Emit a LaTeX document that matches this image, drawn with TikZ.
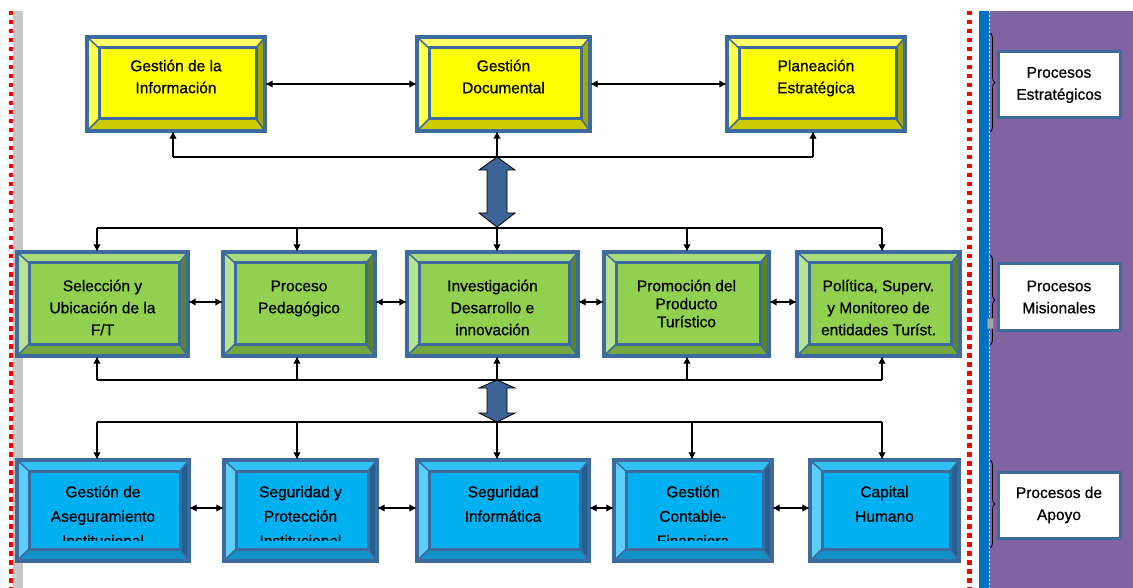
\documentclass[tikz,border=0pt]{standalone}
\usepackage{fontspec}
\setmainfont{Liberation Sans}
\newfontfamily\boxfont{Liberation Sans}[FakeBold=0.7]
\usetikzlibrary{arrows.meta,fit,decorations.pathreplacing}
\definecolor{bord}{HTML}{3E6B9E}
\definecolor{Yc}{HTML}{FFFF00}
\definecolor{Yt}{HTML}{FFFF66}
\definecolor{Yl}{HTML}{FFFF4D}
\definecolor{Yr}{HTML}{A5A500}
\definecolor{Yb}{HTML}{CCCC00}
\definecolor{Gc}{HTML}{92D050}
\definecolor{Gt}{HTML}{A8DC7A}
\definecolor{Gl}{HTML}{B7E391}
\definecolor{Gr}{HTML}{5C832F}
\definecolor{Gb}{HTML}{74A83F}
\definecolor{Bc}{HTML}{00B0F0}
\definecolor{Bt}{HTML}{33C1F4}
\definecolor{Bl}{HTML}{5ACEF6}
\definecolor{Br}{HTML}{225F8F}
\definecolor{Bb}{HTML}{1290C8}
\definecolor{purp}{HTML}{8064A2}
\definecolor{barblue}{HTML}{0070C0}
\definecolor{arrfill}{HTML}{3C6496}
\definecolor{lgray}{HTML}{C8C8C8}
\newcommand{\firststrut}{\rule{0pt}{13pt}}
\def\iL{12}\def\iT{11}\def\iR{9}\def\iB{12}
\def\clipY{600}
\newcommand{\bev}[8]{%
  \fill[#6c] (#2,#3) rectangle (#4,#5);
  \fill[#6t] (#2,#3) -- (#4,#3) -- ({#4-\iR},{#3+\iT}) -- ({#2+\iL},{#3+\iT}) -- cycle;
  \fill[#6l] (#2,#3) -- ({#2+\iL},{#3+\iT}) -- ({#2+\iL},{#5-\iB}) -- (#2,#5) -- cycle;
  \fill[#6r] (#4,#3) -- ({#4-\iR},{#3+\iT}) -- ({#4-\iR},{#5-\iB}) -- (#4,#5) -- cycle;
  \fill[#6b] (#2,#5) -- ({#2+\iL},{#5-\iB}) -- ({#4-\iR},{#5-\iB}) -- (#4,#5) -- cycle;
  \draw[bord, line width=1.5pt] (#2,#3) -- ({#2+\iL},{#3+\iT}) (#4,#3) -- ({#4-\iR},{#3+\iT}) (#4,#5) -- ({#4-\iR},{#5-\iB}) (#2,#5) -- ({#2+\iL},{#5-\iB});
  \draw[bord, line width=3pt] ({#2+\iL},{#3+\iT}) rectangle ({#4-\iR},{#5-\iB});
  \draw[bord, line width=3.5pt] (#2,#3) rectangle (#4,#5);
  \node[inner sep=0pt, fit={(#2,#3) (#4,#5)}] (#1) {};
  \begin{scope}
    \clip (#2,#3) rectangle (#4,\clipY);
    \node[txt, anchor=north] (#1t) at ({(#2+#4)/2},#7) {\firststrut #8};
  \end{scope}
}
\tikzset{
  txt/.style={align=center, inner sep=0pt, font=\boxfont\fontsize{15.5}{22}\selectfont},
  lab/.style={draw=bord, line width=3pt, fill=white, minimum width=122pt, minimum height=66pt, align=center, inner sep=0pt, font=\boxfont\fontsize{15.5}{22}\selectfont},
  ln/.style={line width=1.1pt, black},
  arr/.style={line width=1.1pt, -{Latex[length=7.5pt,width=7.5pt]}},
  darr/.style={line width=1.1pt, {Latex[length=7.5pt,width=7.5pt]}-{Latex[length=7.5pt,width=7.5pt]}},
  blockarr/.style={fill=arrfill, draw=black, line width=0.8pt},
  reddots/.style={red, dash pattern=on 4.5pt off 4.5pt},
  brc/.style={decorate, decoration={brace, amplitude=5pt}, line width=0.8pt, black}
}
\begin{document}
\begin{tikzpicture}[x=1pt,y=-1pt]
\useasboundingbox (0,0) rectangle (1133,588);
\fill[white] (0,0) rectangle (1133,588);
% side decorations
\fill[lgray] (13,11) rectangle (23,588);
\draw[reddots, line width=3.5pt] (11,11) -- (11,588);
\fill[purp] (989,11) rectangle (1133,588);
\fill[barblue] (979,11) rectangle (989,588);
\draw[white, line width=0.6pt, dash pattern=on 2pt off 2pt] (989.5,11) -- (989.5,588);
\draw[reddots, line width=5pt] (969.5,11) -- (969.5,588);

% top row
\bev{info}{87}{37}{265}{131}{Y}{58}{Gestión de la\\Información}
\bev{doc}{417}{37}{590}{131}{Y}{58}{Gestión\\Documental}
\bev{plan}{727}{37}{905}{131}{Y}{58}{Planeación\\Estratégica}
% middle row
\bev{sel}{17}{252}{188}{356}{G}{278}{Selección y\\Ubicación de la\\F/T}
\bev{ped}{223}{252}{375}{356}{G}{278}{Proceso\\Pedagógico}
\bev{inv}{407}{252}{578}{356}{G}{278}{Investigación\\Desarrollo e\\innovación}
\bev{pro}{604}{252}{769}{356}{G}{278}{Promoción del\\[-4pt]Producto\\[-4pt]Turístico}
\bev{pol}{797}{252}{960}{356}{G}{278}{Política, Superv.\\ y Monitoreo de\\entidades Turíst.}
% bottom row
\def\clipY{540}
\bev{ase}{17}{460}{189}{561}{B}{484}{Gestión de\\[2.5pt]Aseguramiento\\[2.5pt]Institucional}
\bev{seg}{224}{460}{377}{561}{B}{484}{Seguridad y\\[2.5pt]Protección\\[2.5pt]Institucional}
\bev{inf}{417}{460}{589}{561}{B}{484}{Seguridad\\[2.5pt]Informática}
\bev{con}{614}{460}{772}{561}{B}{484}{Gestión\\[2.5pt]Contable-\\[2.5pt]Financiera}
\bev{cap}{810}{460}{959}{561}{B}{484}{Capital\\[2.5pt]Humano}

% horizontal links
\draw[darr] (info.east) -- (doc.west);
\draw[darr] (doc.east) -- (plan.west);
\draw[darr] ([yshift=2pt]sel.east) -- ([yshift=2pt]ped.west);
\draw[darr] ([yshift=2pt]ped.east) -- ([yshift=2pt]inv.west);
\draw[darr] ([yshift=2pt]inv.east) -- ([yshift=2pt]pro.west);
\draw[darr] ([yshift=2pt]pro.east) -- ([yshift=2pt]pol.west);
\draw[darr] ([yshift=2.5pt]ase.east) -- ([yshift=2.5pt]seg.west);
\draw[darr] ([yshift=2.5pt]seg.east) -- ([yshift=2.5pt]inf.west);
\draw[darr] ([yshift=2.5pt]inf.east) -- ([yshift=2.5pt]con.west);
\draw[darr] ([yshift=2.5pt]con.east) -- ([yshift=2.5pt]cap.west);

% top bus
\coordinate (t1) at (173,157); \coordinate (t2) at (497,157); \coordinate (t3) at (813,157);
\draw[ln] (t1) -- (t3);
\draw[arr] (t1) -- (t1 |- info.south);
\draw[arr] (t2) -- (t2 |- doc.south);
\draw[arr] (t3) -- (t3 |- plan.south);
% big block arrow
\draw[blockarr] (497,157) -- (515,170) -- (507,170) -- (507,213) -- (515,213) -- (497,227) -- (479,213) -- (487,213) -- (487,170) -- (479,170) -- cycle;
% green top bus
\coordinate (g1) at (97,228); \coordinate (g2) at (297,228); \coordinate (g3) at (497,228);
\coordinate (g4) at (687,228); \coordinate (g5) at (882,228);
\draw[ln] (g1) -- (g5);
\draw[arr] (g1) -- (g1 |- sel.north);
\draw[arr] (g2) -- (g2 |- ped.north);
\draw[arr] (g3) -- (g3 |- inv.north);
\draw[arr] (g4) -- (g4 |- pro.north);
\draw[arr] (g5) -- (g5 |- pol.north);
% green bottom bus
\coordinate (h1) at (97,380); \coordinate (h2) at (297,380); \coordinate (h3) at (497,380);
\coordinate (h4) at (687,380); \coordinate (h5) at (882,380);
\draw[ln] (h1) -- (h5);
\draw[arr] (h1) -- (h1 |- sel.south);
\draw[arr] (h2) -- (h2 |- ped.south);
\draw[arr] (h3) -- (h3 |- inv.south);
\draw[arr] (h4) -- (h4 |- pro.south);
\draw[arr] (h5) -- (h5 |- pol.south);
% small block arrow
\draw[blockarr] (497,380) -- (515,388) -- (507,388) -- (507,413) -- (515,413) -- (497,422) -- (479,413) -- (487,413) -- (487,388) -- (479,388) -- cycle;
% blue bus
\coordinate (k1) at (97,422); \coordinate (k2) at (297,422); \coordinate (k3) at (497,422);
\coordinate (k4) at (692,422); \coordinate (k5) at (882,422);
\draw[ln] (k1) -- (k5);
\draw[arr] (k1) -- (k1 |- ase.north);
\draw[arr] (k2) -- (k2 |- seg.north);
\draw[arr] (k3) -- (k3 |- inf.north);
\draw[arr] (k4) -- (k4 |- con.north);
\draw[arr] (k5) -- (k5 |- cap.north);

% braces and labels
\coordinate (b1a) at (990,33); \coordinate (b1b) at (990,132);
\coordinate (b2a) at (990,255); \coordinate (b2b) at (990,345);
\coordinate (b3a) at (990,460); \coordinate (b3b) at (990,548);
\draw[brc] (b1a) -- (b1b);
\draw[brc] (b2a) -- (b2b);
\draw[brc] (b3a) -- (b3b);
\fill[gray!70, draw=gray] (987,318) rectangle (993,328);
\node[lab] (est) at (1059,85) {Procesos\\Estratégicos};
\node[lab] (mis) at (1059,297) {Procesos\\Misionales};
\node[lab] (apo) at (1059,505) {Procesos de\\Apoyo};
\end{tikzpicture}
\end{document}
